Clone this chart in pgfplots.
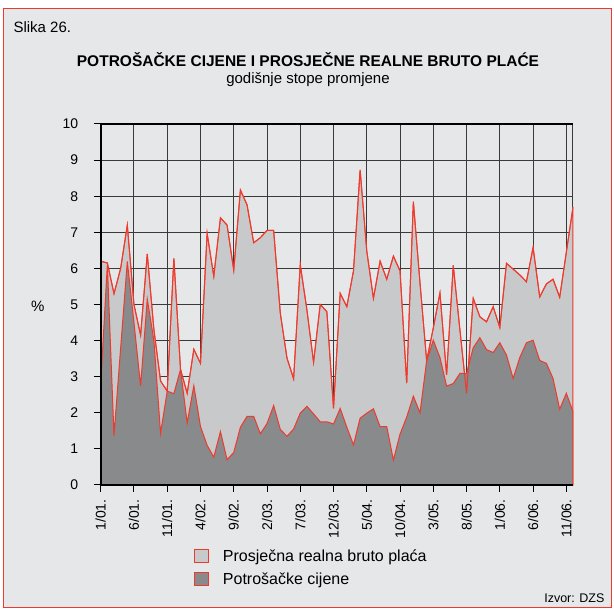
\documentclass[border=0pt]{standalone}
\usepackage{fontspec}
\setmainfont{Liberation Sans}
\usepackage{pgfplots}
\usepackage{pgfplotstable}
\pgfplotsset{compat=1.18}
\definecolor{bg}{HTML}{E6E7E9}
\definecolor{lightf}{HTML}{C8C9CB}
\definecolor{darkf}{HTML}{898A8C}
\definecolor{redl}{HTML}{EE3A2C}
\definecolor{gridc}{HTML}{3A3A3A}

\pgfplotstableread{
i W C
0 6.2 2.8
1 6.15 6.1
2 5.3 1.37
3 6.0 3.8
4 7.2 6.19
5 5.0 4.5
6 4.15 2.75
7 6.4 5.15
8 4.3 4.0
9 2.88 1.43
10 2.6 2.6
11 6.28 2.53
12 3.2 3.2
13 2.54 1.72
14 3.76 2.75
15 3.37 1.62
16 6.97 1.1
17 5.78 0.77
18 7.4 1.48
19 7.2 0.7
20 5.95 0.9
21 8.17 1.6
22 7.76 1.9
23 6.71 1.9
24 6.85 1.42
25 7.05 1.7
26 7.05 2.2
27 4.76 1.54
28 3.52 1.35
29 2.94 1.55
30 6.1 1.99
31 4.85 2.18
32 3.4 1.97
33 5.0 1.75
34 4.8 1.75
35 2.12 1.69
36 5.31 2.12
37 4.94 1.6
38 5.93 1.11
39 8.73 1.85
40 6.48 1.99
41 5.17 2.11
42 6.2 1.62
43 5.7 1.62
44 6.34 0.69
45 5.93 1.41
46 2.82 1.88
47 7.85 2.46
48 5.6 2.0
49 3.44 3.44
50 4.35 4.01
51 5.32 3.53
52 3.05 2.74
53 6.08 2.81
54 4.3 3.09
55 2.54 3.09
56 5.17 3.8
57 4.66 4.08
58 4.52 3.75
59 4.94 3.67
60 4.36 3.94
61 6.14 3.6
62 5.98 2.95
63 5.82 3.53
64 5.63 3.94
65 6.58 4.01
66 5.21 3.45
67 5.57 3.37
68 5.7 2.95
69 5.2 2.1
70 6.45 2.54
71 7.7 2.03
}\data

\begin{document}
\begin{tikzpicture}[x=1pt,y=1pt]
\fill[white] (0,0) rectangle (614,609);
\filldraw[fill=bg, draw=redl, line width=1pt] (3,1) rectangle (611,600);
\node[anchor=base west, font=\fontsize{15}{18}\selectfont] at (10,576) {Slika 26.};
\node[anchor=base, font=\fontsize{15.5}{18}\selectfont\bfseries] at (308,542) {POTROŠAČKE CIJENE I PROSJEČNE REALNE BRUTO PLAĆE};
\node[anchor=base, font=\fontsize{15}{18}\selectfont] at (308,525) {godišnje stope promjene};
\node[anchor=base east, font=\fontsize{12.5}{15}\selectfont] at (608,6) {Izvor: DZS};
\begin{axis}[
  at={(100.7pt,124pt)}, anchor=south west,
  width=472.3pt, height=361pt, scale only axis,
  xmin=0, xmax=71, ymin=0, ymax=10,
  clip=false,
  xtick={0,5,...,70},
  xticklabels={1/01.,6/01.,11/01.,4/02.,9/02.,2/03.,7/03.,12/03.,5/04.,10/04.,3/05.,8/05.,1/06.,6/06.,11/06.},
  ytick={0,...,10},
  tick pos=left,
  grid=major,
  major grid style={gridc, line width=1pt},
  tick align=outside,
  major tick length=7pt,
  tick style={black, line width=1pt},
  axis line style={draw=none},
  /pgf/number format/assume math mode=true,
  x tick label style={yshift=-4pt, rotate=90, anchor=east, font=\fontsize{14}{16}\selectfont},
  y tick label style={xshift=-12pt, font=\fontsize{14}{16}\selectfont},
  ylabel={\%},
  ylabel style={rotate=-90, font=\fontsize{15}{18}\selectfont, at={(axis description cs:-0.133,0.495)}, anchor=center},
  legend style={at={(axis description cs:0.197,-0.172)}, anchor=north west, draw=none, fill=none,
    font=\fontsize{16}{19}\selectfont, row sep=6pt, inner sep=0pt,
    /tikz/every odd column/.append style={column sep=12pt}},
  legend cell align=left,
  legend image code/.code={\draw[#1] (0pt,-6.7pt) rectangle (14pt,6.7pt);},
]
\draw[gridc, line width=1pt] (rel axis cs:1,1) -- (rel axis cs:1,0);
\addplot[fill=lightf, draw=redl, line width=1pt] table[x=i,y=W] {\data} \closedcycle;
\addlegendentry{Prosječna realna bruto plaća}
\addplot[fill=darkf, draw=redl, line width=1pt] table[x=i,y=C] {\data} \closedcycle;
\addlegendentry{Potrošačke cijene}
\addplot[draw=redl, line width=1pt, forget plot] table[x=i,y=W] {\data};
\draw[black, line width=1.8pt] (rel axis cs:0,1) -- (rel axis cs:0,0) -- (rel axis cs:1,0);
\draw[black, line width=1.5pt] (rel axis cs:0,1) -- (rel axis cs:1,1);
\end{axis}
\end{tikzpicture}
\end{document}
